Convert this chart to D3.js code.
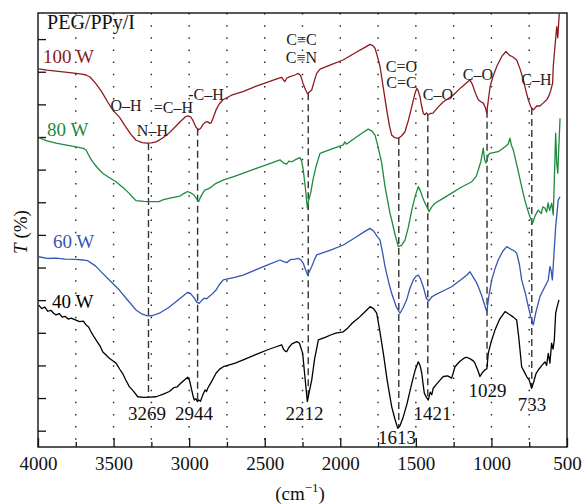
<!DOCTYPE html>
<html>
<head>
<meta charset="utf-8">
<script src="https://d3js.org/d3.v7.min.js"></script>
<style>
    body { margin: 0; background: #fff; }
    svg { display: block; font-family: "Liberation Serif", "DejaVu Serif", serif; }
</style>
</head>
<body>
<div class="output"></div>
<script>
// Спектры: [волновое число (cm-1), T (усл. ед.)]
const s100W = [[3995,110.9],[3940,110.5],[3881,110.2],[3820,109.9],[3749,109.5],[3700,109.2],[3682,109.0],[3656,108.4],[3620,106.5],[3580,104.0],[3540,100.8],[3506,98.3],[3460,96.0],[3424,93.4],[3385,90.8],[3352,89.0],[3310,88.3],[3281,88.1],[3250,88.2],[3219,88.5],[3175,89.7],[3133,91.2],[3095,93.0],[3061,94.6],[3030,96.0],[3010,96.5],[2990,96.2],[2976,95.2],[2955,93.0],[2937,92.2],[2925,92.6],[2910,93.7],[2895,94.5],[2877,94.7],[2865,94.2],[2855,94.3],[2840,96.0],[2822,98.3],[2800,100.2],[2776,101.4],[2720,102.8],[2644,103.9],[2560,105.5],[2480,106.8],[2420,107.8],[2388,108.3],[2375,107.4],[2366,107.0],[2355,108.0],[2333,108.5],[2300,109.0],[2278,109.5],[2262,108.8],[2247,106.5],[2230,104.5],[2216,103.2],[2205,103.8],[2189,104.4],[2170,107.5],[2156,109.5],[2134,110.8],[2060,112.2],[1982,113.6],[1900,115.8],[1840,117.4],[1803,118.4],[1785,118.0],[1770,117.2],[1755,114.8],[1737,111.6],[1715,105.0],[1693,98.3],[1675,93.5],[1660,90.6],[1640,89.8],[1616,89.6],[1595,90.3],[1572,91.6],[1550,95.0],[1527,99.3],[1505,103.5],[1494,104.9],[1485,104.2],[1473,102.4],[1462,99.5],[1451,97.3],[1440,96.8],[1430,97.4],[1418,96.8],[1405,97.2],[1387,97.3],[1350,99.3],[1318,100.8],[1285,101.8],[1252,102.9],[1200,105.2],[1160,106.8],[1142,107.5],[1125,106.0],[1105,103.3],[1087,101.4],[1070,100.8],[1054,100.4],[1040,99.0],[1031,97.3],[1020,101.5],[1009,105.4],[990,108.5],[965,111.6],[930,114.8],[904,116.2],[880,115.0],[860,114.6],[833,113.6],[810,110.8],[789,107.5],[770,103.8],[756,101.4],[740,99.3],[723,98.3],[700,99.5],[679,99.5],[660,100.3],[634,101.4],[620,102.6],[608,104.2],[595,106.5],[591,111.6],[580,117.5],[568,123.8],[561,120.4],[551,127.9]];

const s80W = [[3995,89.8],[3940,88.8],[3881,88.1],[3820,87.6],[3749,87.0],[3700,86.5],[3682,86.0],[3660,84.0],[3638,82.4],[3605,80.5],[3572,78.9],[3530,77.6],[3484,76.3],[3440,74.6],[3398,72.8],[3370,71.4],[3352,70.5],[3300,70.3],[3250,70.2],[3199,70.2],[3170,70.8],[3133,71.2],[3095,71.6],[3061,71.9],[3030,72.8],[3010,73.3],[2990,72.9],[2968,72.2],[2950,71.0],[2937,70.2],[2925,71.5],[2910,72.8],[2895,73.8],[2877,74.0],[2850,74.8],[2822,75.8],[2776,76.8],[2700,77.9],[2642,78.9],[2560,80.3],[2480,81.6],[2399,83.0],[2375,82.0],[2355,81.7],[2340,82.6],[2321,82.4],[2290,83.2],[2267,83.7],[2255,82.5],[2245,79.9],[2230,74.0],[2218,68.2],[2210,70.5],[2196,72.8],[2180,77.0],[2161,80.9],[2134,85.0],[2060,86.3],[1980,87.6],[1970,88.5],[1960,87.8],[1900,89.8],[1850,91.4],[1815,92.4],[1790,91.8],[1770,90.6],[1750,87.0],[1726,82.0],[1704,74.8],[1671,66.6],[1660,64.6],[1640,60.5],[1616,56.4],[1595,56.8],[1572,58.4],[1550,62.3],[1527,67.6],[1505,71.8],[1484,74.8],[1470,73.5],[1457,71.7],[1440,69.8],[1428,68.7],[1413,67.1],[1395,68.6],[1373,69.7],[1320,71.2],[1263,72.8],[1200,74.6],[1130,76.3],[1100,78.0],[1087,79.9],[1070,82.5],[1060,85.0],[1054,86.6],[1045,83.0],[1036,82.0],[1020,84.5],[1009,85.0],[980,85.3],[955,85.5],[930,86.3],[910,87.0],[890,87.8],[877,89.6],[868,87.5],[855,86.0],[830,81.0],[800,74.8],[780,70.8],[767,68.7],[745,65.5],[727,63.6],[710,66.0],[690,67.6],[670,66.5],[660,68.6],[646,68.2],[635,67.0],[625,69.8],[615,67.5],[601,69.7],[591,66.1],[585,75.0],[575,91.2],[568,82.0],[561,78.9],[555,86.0],[546,95.7]];

const s60W = [[3995,53.3],[3940,52.8],[3881,52.9],[3820,52.6],[3749,52.5],[3700,52.3],[3671,52.1],[3620,50.5],[3572,48.2],[3520,45.8],[3462,43.1],[3410,40.2],[3352,37.0],[3310,35.7],[3274,35.2],[3240,35.3],[3197,36.0],[3140,37.6],[3087,39.5],[3040,41.3],[3010,42.4],[2990,42.0],[2966,40.6],[2950,39.4],[2933,39.0],[2915,40.0],[2900,40.6],[2885,40.4],[2867,41.1],[2845,42.0],[2822,43.1],[2800,44.8],[2774,46.2],[2700,47.0],[2642,47.7],[2560,49.3],[2480,50.8],[2399,52.3],[2375,51.8],[2355,51.5],[2330,52.4],[2300,52.6],[2278,52.8],[2260,52.3],[2245,51.3],[2230,49.3],[2216,47.7],[2205,48.7],[2189,50.3],[2170,52.5],[2156,53.9],[2060,55.4],[1980,56.9],[1900,59.2],[1840,61.0],[1803,62.0],[1780,61.2],[1755,59.5],[1737,58.4],[1720,54.5],[1704,50.3],[1680,45.5],[1660,42.1],[1630,38.0],[1605,36.0],[1585,37.6],[1561,40.1],[1540,43.5],[1517,46.2],[1500,47.3],[1484,47.7],[1470,46.6],[1451,44.1],[1430,40.5],[1413,39.8],[1395,41.0],[1373,41.6],[1320,42.8],[1263,44.1],[1200,46.3],[1160,47.8],[1142,48.7],[1120,47.0],[1100,45.5],[1087,44.1],[1065,41.5],[1045,38.5],[1031,36.5],[1015,41.8],[998,46.2],[975,49.8],[955,52.3],[925,55.0],[899,56.4],[870,55.6],[845,55.0],[833,54.4],[815,51.0],[800,46.2],[775,42.0],[756,38.0],[740,35.0],[723,32.4],[705,36.5],[679,41.1],[650,43.8],[624,46.2],[613,50.3],[605,49.0],[597,46.2],[585,55.0],[575,62.5],[558,70.7],[546,71.7]];

const s40W = [[3995,38.5],[3975,37.4],[3955,37.9],[3935,36.6],[3915,36.9],[3895,35.9],[3881,35.5],[3860,35.9],[3840,34.8],[3820,35.0],[3800,34.2],[3780,34.5],[3749,33.9],[3725,33.4],[3700,33.6],[3682,32.4],[3665,31.8],[3649,30.3],[3630,28.8],[3610,27.4],[3590,26.0],[3572,24.2],[3550,23.2],[3530,22.3],[3510,21.6],[3484,20.7],[3460,18.9],[3440,17.5],[3420,15.6],[3396,13.5],[3370,12.2],[3340,10.4],[3300,10.2],[3260,10.3],[3219,10.4],[3175,11.1],[3131,12.0],[3100,13.2],[3080,13.4],[3061,14.3],[3035,15.4],[3010,16.4],[2998,15.5],[2988,13.5],[2975,10.8],[2966,9.4],[2955,9.8],[2945,8.9],[2937,9.4],[2925,9.0],[2910,10.9],[2895,12.5],[2885,12.0],[2877,13.0],[2850,15.2],[2822,17.6],[2800,18.8],[2774,19.6],[2700,20.6],[2642,21.7],[2560,23.3],[2480,24.8],[2420,25.8],[2388,26.3],[2375,24.9],[2365,24.4],[2355,24.2],[2340,25.5],[2320,26.6],[2288,27.3],[2270,26.8],[2249,23.7],[2235,17.0],[2218,8.9],[2205,12.0],[2189,15.5],[2170,22.0],[2145,27.8],[2100,28.6],[2060,29.4],[2030,29.9],[1980,30.3],[1950,31.5],[1920,33.0],[1880,34.5],[1840,36.3],[1803,38.0],[1780,37.4],[1759,36.0],[1740,31.0],[1715,23.7],[1690,15.5],[1660,7.4],[1640,3.8],[1620,0.7],[1605,1.5],[1583,4.3],[1560,8.0],[1527,14.5],[1505,18.5],[1484,21.1],[1472,20.0],[1461,17.6],[1450,13.5],[1444,11.5],[1430,10.2],[1418,9.4],[1405,11.8],[1395,11.0],[1385,13.0],[1360,14.4],[1340,15.5],[1318,16.6],[1290,16.8],[1263,16.1],[1241,19.6],[1210,21.2],[1180,22.3],[1164,22.5],[1140,22.0],[1120,21.4],[1109,20.7],[1090,18.5],[1076,16.6],[1060,17.8],[1043,18.6],[1030,19.0],[1021,23.7],[1000,27.5],[976,30.9],[945,34.2],[910,36.5],[880,35.6],[855,34.8],[833,33.9],[820,29.0],[800,19.6],[780,17.8],[767,16.6],[750,15.5],[734,13.0],[720,15.0],[705,17.5],[690,18.6],[670,19.8],[646,21.1],[635,20.0],[624,23.7],[613,20.7],[602,26.8],[592,25.0],[584,27.8],[575,36.0],[565,38.0],[553,40.1]];

const seriesNames = ["100 W", "80 W", "60 W", "40 W"];
const peakWavenumbers = [3269, 2944, 2212, 1613, 1421, 1029, 733];
const peakLabels = ["3269", "2944", "2212", "1613", "1421", "1029", "733"];
const bondLabels = ["O\u2013H", "N\u2013H", "=C\u2013H", "-C\u2013H", "C\u2261C", "C\u2261N", "C=O", "C=C", "C\u2013O", "C\u2013O", "C\u2013H"];
const xTickLabels = [4000, 3500, 3000, 2500, 2000, 1500, 1000, 500];

const margin = {top: 13, right: 17, bottom: 57, left: 38};
const width = 529, height = 434;

const svg = d3.select(".output")
    .append("svg")
    .attr("width", width + margin.left + margin.right)
    .attr("height", height + margin.top + margin.bottom)
    .append("g")
    .attr("transform", "translate(" + margin.left + "," + margin.top + ")");

let x = d3.scaleLinear().domain([4000, 500]).range([0, width]);
let y = d3.scaleLinear().domain([-5, 128]).range([height, 0]);

// Пунктирная сетка
svg.selectAll("gridLines")
    .data(d3.range(750, 3751, 250))
    .enter()
    .append("line")
    .attr("x1", d => x(d)).attr("x2", d => x(d))
    .attr("y1", 0).attr("y2", height)
    .attr("stroke", "#222")
    .attr("stroke-width", 1.4)
    .attr("stroke-dasharray", "1.5,10.65");

// Оси
let xAxis = svg.append("g")
    .attr("transform", "translate(0," + height + ")")
    .call(d3.axisBottom(x).tickValues(xTickLabels).tickSizeInner(-9).tickSizeOuter(0).tickPadding(10).tickFormat(d3.format("d")));
xAxis.selectAll("text").style("font-size", "19px").style("font-family", "Liberation Serif").attr("fill", "#111");

svg.append("g")
    .attr("transform", "translate(0," + height + ")")
    .call(d3.axisBottom(x).tickValues(d3.range(750, 3751, 500)).tickSizeInner(-5).tickSizeOuter(0).tickFormat(""));

svg.append("g")
    .call(d3.axisLeft(y).tickValues(d3.range(0, 121, 10)).tickSizeInner(-8).tickSizeOuter(0).tickFormat(""));

svg.selectAll(".domain").remove();
svg.selectAll(".tick line").attr("stroke", "#111").attr("stroke-width", 1.3);

svg.append("rect")
    .attr("width", width).attr("height", height)
    .attr("fill", "none").attr("stroke", "#111").attr("stroke-width", 1.4);

// Кривые
let colors = ["#8c1a20", "#1f8a3e", "#3357b0", "#000000"];
let series = [s100W, s80W, s60W, s40W];

svg.append("clipPath").attr("id", "clip")
    .append("rect").attr("width", width).attr("height", height);

let line = d3.line()
    .x(d => x(d[0]))
    .y(d => y(d[1]));

// Значение кривой на волновом числе
let valueAt = (s, wn) => {
    for (let i = 0; i < s.length - 1; i++) {
        if (s[i][0] >= wn && s[i + 1][0] <= wn) {
            let t = (s[i][0] - wn) / (s[i][0] - s[i + 1][0]);
            return s[i][1] + t * (s[i + 1][1] - s[i][1]);
        }
    }
    return s[s.length - 1][1];
};

// Штриховые линии пиков
svg.selectAll("peakLines")
    .data(peakWavenumbers)
    .enter()
    .append("line")
    .attr("x1", d => x(d)).attr("x2", d => x(d))
    .attr("y1", d => y(valueAt(s100W, d)))
    .attr("y2", d => y(valueAt(s40W, d)))
    .attr("stroke", "#333")
    .attr("stroke-width", 1.4)
    .attr("stroke-dasharray", "7,4");

svg.append("g")
    .attr("clip-path", "url(#clip)")
    .selectAll("path")
    .data(series)
    .enter()
    .append("path")
    .attr("d", d => line(d))
    .attr("fill", "none")
    .attr("stroke", (d, i) => colors[i])
    .attr("stroke-width", 1.3)
    .attr("stroke-linejoin", "round");

// Подписи серий
let namePos = [[3967, 112.7], [3940, 90.3], [3901, 56.0], [3907, 37.6]];
svg.selectAll("seriesNames")
    .data(seriesNames)
    .enter()
    .append("text")
    .attr("x", (d, i) => x(namePos[i][0]))
    .attr("y", (d, i) => y(namePos[i][1]))
    .attr("fill", (d, i) => colors[i])
    .style("font-size", "19px")
    .text(d => d);

svg.append("text")
    .attr("x", x(3940)).attr("y", y(123.1))
    .attr("fill", "#111")
    .style("font-size", "20px")
    .text("PEG/PPy/I");

// Подписи связей
let bondPos = [[3418, 98.0], [3243, 90.3], [3104, 97.4], [2888, 101.4], [2257, 118.2], [2257, 112.7],
    [1595, 109.9], [1595, 105.0], [1354, 101.3], [1089, 107.5], [702, 105.9]];
svg.selectAll("bondLabels")
    .data(bondLabels)
    .enter()
    .append("text")
    .attr("x", (d, i) => x(bondPos[i][0]))
    .attr("y", (d, i) => y(bondPos[i][1]))
    .attr("text-anchor", "middle")
    .attr("fill", "#222")
    .style("font-size", "16px")
    .text(d => d);

// Подписи пиков
let peakPos = [[3279, 3.3], [2968, 3.3], [2237, 3.3], [1625, -4.1], [1390, 3.3], [1026, 10.3], [731, 6.1]];
svg.selectAll("peakLabels")
    .data(peakLabels)
    .enter()
    .append("text")
    .attr("x", (d, i) => x(peakPos[i][0]))
    .attr("y", (d, i) => y(peakPos[i][1]))
    .attr("text-anchor", "middle")
    .attr("fill", "#111")
    .style("font-size", "19px")
    .text(d => d);

// Подписи осей
let yTitle = svg.append("text")
    .attr("transform", "translate(" + (-11) + "," + 219 + ") rotate(-90)")
    .attr("text-anchor", "middle")
    .attr("fill", "#111")
    .style("font-size", "19px");
yTitle.append("tspan").style("font-style", "italic").text("T");
yTitle.append("tspan").text(" (%)");

let xTitle = svg.append("text")
    .attr("x", 262).attr("y", height + 53)
    .attr("text-anchor", "middle")
    .attr("fill", "#111")
    .style("font-size", "19px");
xTitle.append("tspan").text("(cm");
xTitle.append("tspan").attr("dy", -8).style("font-size", "13px").text("\u22121");
xTitle.append("tspan").attr("dy", 8).text(")");
</script>
</body>
</html>
